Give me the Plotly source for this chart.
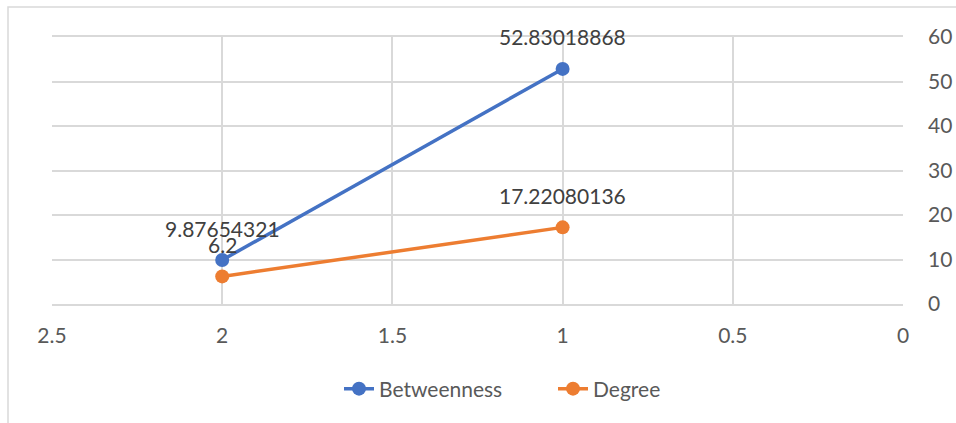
import plotly.graph_objects as go

x_vals = [2, 1]
betweenness = [9.87654321, 52.83018868]
degree = [6.2, 17.22080136]
series_names = ["Betweenness", "Degree"]
colors = ["#4472C4", "#ED7D31"]

W, H = 956, 423
L, T = 52, 37
R = W - 903
B = H - 304

fig = go.Figure()
for name, vals, col in zip(series_names, [betweenness, degree], colors):
    fig.add_trace(go.Scatter(
        x=x_vals, y=vals, name=name, mode="lines+markers",
        line=dict(color=col, width=3.5),
        marker=dict(color=col, size=14),
        cliponaxis=False,
    ))
    for xv, v in zip(x_vals, vals):
        fig.add_annotation(x=xv, y=v, text=f"{v:.10g}", showarrow=False,
                           yanchor="middle", xanchor="center", yshift=32,
                           font=dict(family="Lato", size=21, color="#404040"))

pw = W - L - R
ph = H - T - B
fig.add_shape(type="rect", xref="paper", yref="paper",
              x0=(8 - L) / pw, x1=(W + 10 - L) / pw,
              y0=(T + ph - (H + 10)) / ph, y1=(T + ph - 7) / ph,
              line=dict(color="#D9D9D9", width=1.5), fillcolor="rgba(0,0,0,0)", layer="below")

fig.update_layout(
    width=W, height=H,
    margin=dict(l=L, r=R, t=T, b=B, autoexpand=False),
    paper_bgcolor="white", plot_bgcolor="white",
    font=dict(family="Lato", size=21, color="#595959"),
    showlegend=True,
    legend=dict(orientation="h", x=(339 - L) / pw, xanchor="left", y=(T + ph - 389) / ph, yanchor="middle",
                entrywidth=169, entrywidthmode="pixels",
                font=dict(family="Lato", size=21, color="#595959")),
    xaxis=dict(range=[2.5, 0], dtick=0.5, tick0=0, showgrid=True, gridcolor="#D9D9D9", gridwidth=1.5,
               zeroline=False, showline=True, linecolor="#D9D9D9", linewidth=1.5, mirror=True,
               ticks="", ticklabelstandoff=12, tickfont=dict(family="Lato", size=21, color="#595959")),
    yaxis=dict(range=[0, 60], dtick=10, side="right", showgrid=True, gridcolor="#D9D9D9", gridwidth=1.5,
               zeroline=False, showline=False, ticks="", ticklabelstandoff=24,
               tickfont=dict(family="Lato", size=21, color="#595959")),
)
fig.write_html("out.html", config={"displayModeBar": False},
               post_script="document.body.style.margin='0';document.body.style.overflow='hidden';")
